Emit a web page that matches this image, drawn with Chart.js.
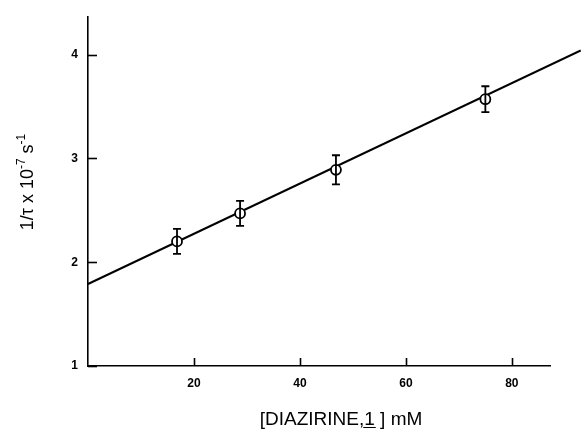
<!DOCTYPE html>
<html>
<head>
<meta charset="utf-8">
<script src="https://cdn.jsdelivr.net/npm/chart.js@4/dist/chart.umd.min.js"></script>
<style>
    html, body { margin: 0; padding: 0; background: #fff; }
    canvas { display: block; }
</style>
</head>
<body>
<canvas id="rateChart" width="581" height="429"></canvas>
<script>
// values
const xTicks = [20, 40, 60, 80];
const yTicks = [1, 2, 3, 4];
const concentration = [16.8, 28.7, 46.8, 75.0];
const rate = [2.20, 2.47, 2.89, 3.57];
const rateError = [0.12, 0.12, 0.14, 0.125];
const fitX = [0, 93];
const fitY = [1.79, 4.04];

const FONT = '"Liberation Sans", Arial, Helvetica, sans-serif';

// error bars + inward tick marks + axis titles
const decorations = {
    id: 'decorations',
    afterDatasetsDraw(chart) {
        const ctx = chart.ctx;
        const x = chart.scales.x;
        const y = chart.scales.y;
        const area = chart.chartArea;

        ctx.save();
        ctx.strokeStyle = '#000';
        ctx.lineWidth = 1.6;

        // inner tick marks
        xTicks.forEach(function (v) {
            const px = Math.round(x.getPixelForValue(v)) + 0.5;
            ctx.beginPath();
            ctx.moveTo(px, area.bottom);
            ctx.lineTo(px, area.bottom - 8);
            ctx.stroke();
        });
        yTicks.forEach(function (v) {
            const py = Math.round(y.getPixelForValue(v)) + 0.5;
            ctx.beginPath();
            ctx.moveTo(area.left, py);
            ctx.lineTo(area.left + 9, py);
            ctx.stroke();
        });

        // error bars
        ctx.lineWidth = 1.8;
        concentration.forEach(function (c, i) {
            const px = x.getPixelForValue(c);
            const top = y.getPixelForValue(rate[i] + rateError[i]);
            const bot = y.getPixelForValue(rate[i] - rateError[i]);
            ctx.beginPath();
            ctx.moveTo(px, top);
            ctx.lineTo(px, bot);
            ctx.moveTo(px - 4, top);
            ctx.lineTo(px + 4, top);
            ctx.moveTo(px - 4, bot);
            ctx.lineTo(px + 4, bot);
            ctx.stroke();
        });
        ctx.restore();
    },
    afterDraw(chart) {
        const ctx = chart.ctx;
        ctx.save();
        ctx.fillStyle = '#000';
        ctx.strokeStyle = '#000';
        ctx.textBaseline = 'alphabetic';

        // x title: [DIAZIRINE,1] mM with underlined 1
        ctx.font = '19px ' + FONT;
        const parts = ['[DIAZIRINE,', '1', ' ] mM'];
        const widths = parts.map(function (p) { return ctx.measureText(p).width; });
        const total = widths.reduce(function (a, b) { return a + b; }, 0);
        let tx = 341 - total / 2;
        const ty = 425;
        parts.forEach(function (p, i) {
            ctx.fillText(p, tx, ty);
            if (i === 1) {
                ctx.lineWidth = 1;
                ctx.beginPath();
                ctx.moveTo(tx - 1, ty + 2.5);
                ctx.lineTo(tx + widths[i] + 1, ty + 2.5);
                ctx.stroke();
            }
            tx += widths[i];
        });

        // y title: 1/τ x 10^-7 s^-1, rotated
        ctx.translate(27, 182);
        ctx.rotate(-Math.PI / 2);
        const segs = [
            { t: '1/τ x 10', s: 18, dy: 0 },
            { t: '-7', s: 12, dy: -8 },
            { t: ' s', s: 18, dy: 0 },
            { t: '-1', s: 12, dy: -8 }
        ];
        let w = 0;
        segs.forEach(function (s) {
            ctx.font = s.s + 'px ' + FONT;
            s.w = ctx.measureText(s.t).width;
            w += s.w;
        });
        let sx = -w / 2;
        segs.forEach(function (s) {
            ctx.font = s.s + 'px ' + FONT;
            ctx.fillText(s.t, sx, 6 + s.dy);
            sx += s.w;
        });
        ctx.restore();
    }
};

new Chart(document.getElementById('rateChart'), {
    type: 'scatter',
    data: {
        datasets: [
            {
                label: 'fit',
                type: 'line',
                data: fitX.map(function (v, i) { return { x: v, y: fitY[i] }; }),
                borderColor: '#000',
                borderWidth: 2,
                pointRadius: 0,
                fill: false,
                clip: false,
                order: 2,
            },
            {
                label: 'data',
                data: concentration.map(function (v, i) { return { x: v, y: rate[i] }; }),
                pointRadius: 5,
                pointBackgroundColor: '#fff',
                pointBorderColor: '#000',
                pointBorderWidth: 1.8,
                order: 1,
            },
        ],
    },
    options: {
        responsive: false,
        animation: false,
        events: [],
        layout: {
            padding: { top: 12, right: 31, left: 0, bottom: 0 },
        },
        plugins: {
            legend: { display: false },
            tooltip: { enabled: false },
        },
        scales: {
            x: {
                type: 'linear',
                min: 0,
                max: 87.2,
                afterBuildTicks: function (scale) {
                    scale.ticks = xTicks.map(function (v) { return { value: v }; });
                },
                afterFit: function (scale) { scale.height = 63; },
                grid: { display: false, drawTicks: false },
                border: { display: true, color: '#000', width: 1.6 },
                ticks: {
                    color: '#000',
                    padding: 10,
                    font: { family: FONT, size: 12, weight: 'bold' },
                },
            },
            y: {
                type: 'linear',
                min: 1,
                max: 4.36,
                afterBuildTicks: function (scale) {
                    scale.ticks = yTicks.map(function (v) { return { value: v }; });
                },
                afterFit: function (scale) { scale.width = 88; },
                grid: { display: false, drawTicks: false },
                border: { display: true, color: '#000', width: 1.6 },
                ticks: {
                    color: '#000',
                    padding: 10,
                    font: { family: FONT, size: 12, weight: 'bold' },
                },
            },
        },
    },
    plugins: [decorations],
});
</script>
</body>
</html>
